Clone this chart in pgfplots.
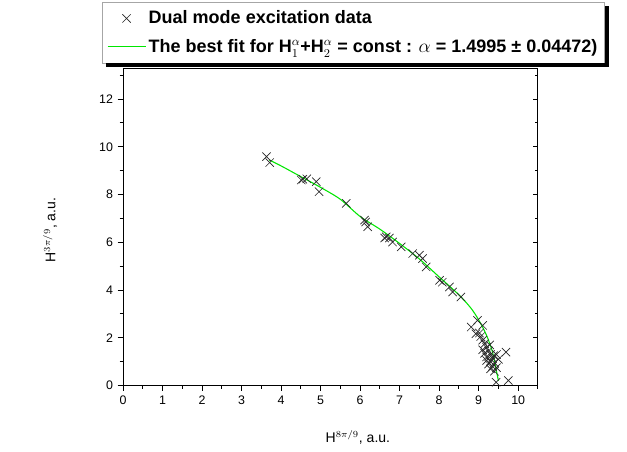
\documentclass[border=0pt]{standalone}
\usepackage{pgfplots}
\pgfplotsset{compat=1.18}
\usepackage{fontspec}
\setmainfont{Liberation Sans}
\begin{document}
\begin{tikzpicture}
\pgfplotsset{
  common/.style={scale only axis, width=311pt, height=238pt,
    xmin=0, xmax=10.5, ymin=0, ymax=13.3,
    major tick length=4pt, minor tick length=2.5pt,
    axis line style={line width=0.8pt},
    every tick/.style={black, line width=0.7pt}},
}
% right-side (inward) ticks
\begin{axis}[common, name=ax, xtick=\empty, ytick={0,2,...,12}, minor ytick={1,3,...,13},
  ytick pos=right, tick align=inside, yticklabels={}]
\end{axis}
\begin{axis}[common, at={(ax.south west)}, anchor=south west,
  xtick={0,...,10}, ytick={0,2,...,12},
  minor xtick={0.5,1.5,...,10.5}, minor ytick={1,3,...,13},
  xtick pos=bottom, ytick pos=left, tick align=outside,
  tick label style={font=\fontsize{9.3}{11}\selectfont},
  /pgf/number format/assume math mode=true,
  xlabel={H$^{8\pi/9}$, a.u.}, ylabel={H$^{3\pi/9}$, a.u.},
  label style={font=\fontsize{10.5}{12}\selectfont},
  xlabel style={at={(axis description cs:0.566,-0.164)}, anchor=center},
  ylabel style={at={(axis description cs:-0.176,0.49)}, anchor=center},
  clip=false,
  legend cell align=left,
  legend image code/.code={\draw[mark repeat=2,mark phase=2,#1] plot coordinates {(0cm,0cm) (0.5cm,0cm) (1cm,0cm)};},
  legend style={name=leg, at={(axis description cs:-0.0506,1.208)}, anchor=north west,
    draw=gray!70, fill=white, font=\bfseries\fontsize{13.5}{15}\selectfont,
    inner xsep=3.5pt, inner ysep=4.5pt, row sep=6pt},
]
\addplot[only marks, mark=x, mark size=4.4pt, black!85, line width=0.5pt] coordinates {
(3.63,9.59) (3.71,9.34) (4.51,8.61) (4.55,8.64) (4.65,8.66) (4.89,8.54) (4.96,8.12)
(5.65,7.63) (6.11,6.93) (6.19,6.65) (6.14,6.85) (6.62,6.18) (6.74,6.18) (6.82,6.01)
(6.66,6.23) (7.04,5.81) (7.33,5.53) (7.50,5.46) (7.58,5.32) (7.67,4.97)
(8.01,4.41) (8.08,4.33) (8.26,4.13) (8.34,3.92) (8.55,3.71)
(8.97,2.73) (8.81,2.45) (9.10,2.52) (8.93,2.17) (9.69,1.40) (9.44,0.14) (9.75,0.21)
(9.05,2.05) (9.10,1.90) (9.15,1.75) (9.20,1.60) (9.10,1.50) (9.25,1.45) (9.30,1.30)
(9.20,1.20) (9.35,1.15) (9.30,1.00) (9.25,0.90) (9.40,0.95) (9.35,0.80) (9.30,0.70)
(9.45,0.75) (9.40,0.60) (9.20,1.05) (9.15,1.35) (9.28,1.70) (9.02,2.20) (9.38,1.25)
(9.50,1.10) (9.45,1.30)
};
\addlegendentry{Dual mode excitation data}
\addplot[color={rgb,255:red,0;green,230;blue,0}, line width=0.8pt, no marks, smooth] coordinates {
(3.70,9.45) (4.0,9.20) (4.5,8.75) (5.0,8.30) (5.5,7.80) (6.0,7.08) (6.5,6.55)
(7.0,5.95) (7.5,5.30) (8.0,4.55) (8.5,3.80) (8.8,3.25) (9.0,2.75) (9.2,2.10)
(9.35,1.40) (9.45,0.60) (9.50,0.20)
};
\addlegendentry{The best fit for H$_1^{\alpha}$+H$_2^{\alpha}$ = const : $\alpha$ = 1.4995 ± 0.04472)}
\end{axis}
\fill[black] ([xshift=3pt]leg.south west) rectangle ([xshift=3pt,yshift=-3pt]leg.south east);
\fill[black] (leg.south east) rectangle ([xshift=3pt,yshift=-3pt]leg.north east);
\pgfresetboundingbox
\path (ax.south west) ++(-92.25pt,-49.5pt) rectangle ([xshift=66.75pt,yshift=51pt]ax.north east);
\end{tikzpicture}
\end{document}
